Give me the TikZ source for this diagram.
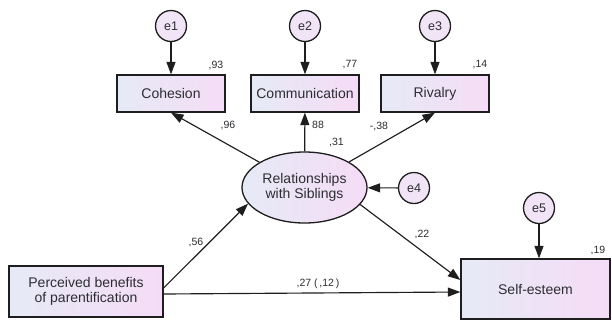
\documentclass[tikz,border=0pt]{standalone}
\usepackage{fontspec}
\setmainfont{Liberation Sans}
\usetikzlibrary{arrows.meta,shapes.geometric,calc}
\definecolor{bl}{RGB}{230,234,246}
\definecolor{br}{RGB}{245,220,246}
\definecolor{cf}{RGB}{241,228,246}
\definecolor{ln}{RGB}{30,30,30}
\definecolor{tx}{RGB}{45,45,50}
\begin{document}
\begin{tikzpicture}[x=1pt,y=-1pt,
  obs/.style={draw=ln,line width=1.3pt,rectangle,left color=bl,right color=br,text=tx,
    font=\fontsize{14}{15.5}\selectfont,align=center,inner sep=0pt},
  lat/.style={draw=ln,line width=1.3pt,ellipse,left color=bl,right color=br,text=tx,
    font=\fontsize{14}{15.5}\selectfont,align=center,inner sep=0pt,
    minimum width=125pt,minimum height=71pt},
  err/.style={circle,draw=ln,line width=1.3pt,fill=cf,minimum size=31pt,inner sep=0pt,
    font=\fontsize{12.5}{12.5}\selectfont,text=tx},
  arr/.style={-{Triangle[length=12.5pt,width=9pt]},line width=1.15pt,draw=ln},
  lbl/.style={font=\fontsize{10.5}{10.5}\selectfont,text=tx,inner sep=0pt}]
\useasboundingbox[fill=white] (0,0) rectangle (612,327);

% observed variables
\node[obs,minimum width=108pt,minimum height=37pt] (coh) at (171,93.5) {Cohesion};
\node[obs,minimum width=108pt,minimum height=37pt] (com) at (305,93.5) {Communication};
\node[obs,minimum width=108pt,minimum height=37pt] (riv) at (435,93.5) {Rivalry};
\node[obs,minimum width=154pt,minimum height=51pt] (per) at (86,291.5) {Perceived benefits\\of parentification};
\node[obs,minimum width=149pt,minimum height=60pt] (self) at (535.5,289) {Self-esteem};

% latent variable
\node[lat] (rel) at (304.5,187.5) {Relationships\\with Siblings};

% error terms
\node[err] (e1) at (171,26) {e1};
\node[err] (e2) at (305,26) {e2};
\node[err] (e3) at (435,26) {e3};
\node[err] (e4) at (414,188) {e4};
\node[err] (e5) at (539,208) {e5};

% arrows
\draw[arr] (e1) -- (coh);
\draw[arr] (e2) -- (com);
\draw[arr] (e3) -- (riv);
\draw[arr] (e4) -- (rel);
\draw[arr] (e5) -- (e5 |- self.north);
\draw[arr] (rel) -- (coh.south);
\draw[arr] (rel) -- (com);
\draw[arr] (rel) -- (riv.south);
\draw[arr] (rel.-17) -- ($(self.west)+(0,-9)$);
\draw[arr] ($(per.east)+(0,-3.5)$) -- (rel.196);
\draw[arr] ($(per.east)+(0,2.5)$) -- ($(self.west)+(0,3)$);

% labels
\node[lbl] (l93) at (216,66) {,93};
\node[lbl] (l77) at (350,65) {,77};
\node[lbl] (l14) at (480,65) {,14};
\node[lbl] (l19) at (598,250) {,19};
\node[lbl] (l96) at (228,126) {,96};
\node[lbl] (l88) at (318,125) {88};
\node[lbl] (l38) at (379,127) {-,38};
\node[lbl] (l31) at (336.5,143) {,31};
\node[lbl] (l56) at (196,242) {,56};
\node[lbl] (l22) at (422,234) {,22};
\node[lbl] (l27) at (318,284) {,27 (\,,12\,)};
\end{tikzpicture}
\end{document}
